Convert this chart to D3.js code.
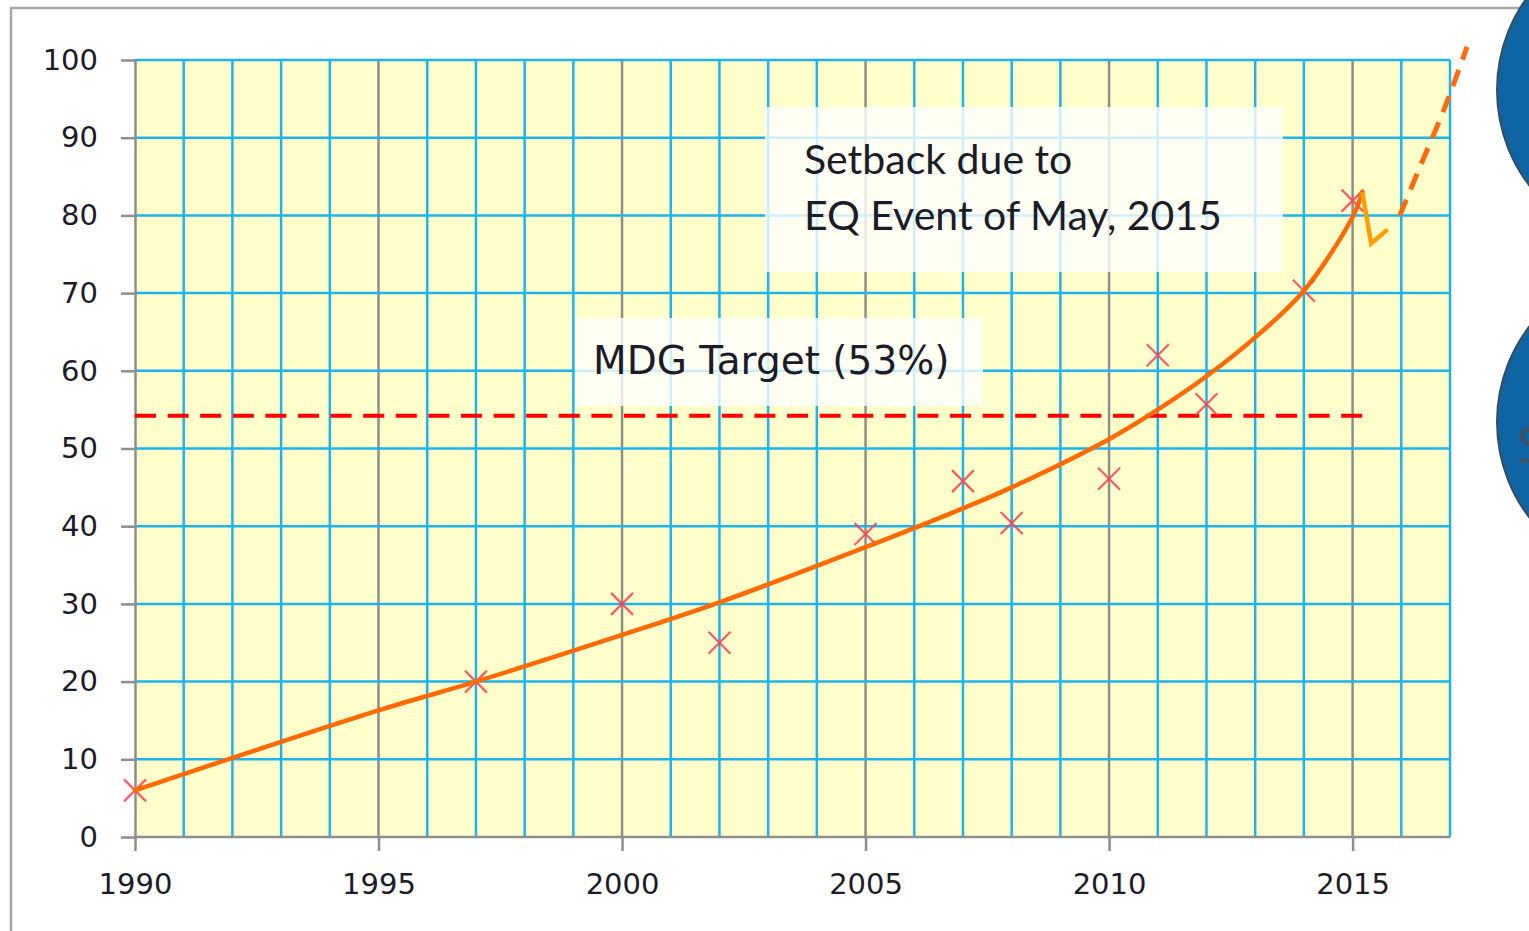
<!DOCTYPE html>
<meta charset="utf-8">
<style>
body { margin: 0; background: #fff; }
</style>
<body>
<script src="https://cdnjs.cloudflare.com/ajax/libs/d3/7.8.5/d3.min.js"></script>
<script>
// observed points (year, %)
var obsYears  = [1990, 1997, 2000, 2002, 2005, 2007, 2008, 2010, 2011, 2012, 2014, 2015];
var obsValues = [6, 20, 30, 25, 39, 45.8, 40.4, 46.1, 62, 55.7, 70.3, 81.9];

// fitted trend curve
var trendYears  = [1990, 1995, 1997, 2000, 2002, 2005, 2007, 2008, 2010, 2011, 2012, 2013, 2014, 2015, 2015.2];
var trendValues = [6, 16.3, 20, 26, 30.2, 37.3, 42.3, 45, 51.2, 55, 59.3, 64.3, 70.3, 79.8, 83];

// setback zigzag and projected recovery
var setbackYears  = [2015.2, 2015.38, 2015.72];
var setbackValues = [83, 76.4, 78.2];
var projYears  = [2015.97, 2016.4, 2016.9, 2017.35];
var projValues = [80, 86.5, 94, 101.7];

var targetValue = 54.2;
var targetEnd = 2015.2;

var yTicks = [0, 10, 20, 30, 40, 50, 60, 70, 80, 90, 100];
var xTicks = [1990, 1995, 2000, 2005, 2010, 2015];

var W = 1529, H = 931;
var pL = 135, pR = 1450, pT = 60, pB = 837;

var blue = "#1db4ec", grey = "#8e8e8e";

var svg = d3.select("body").append("svg")
    .attr("width", W)
    .attr("height", H);

var x = d3.scaleLinear().domain([1990, 2017]).range([pL, pR]);
var y = d3.scaleLinear().domain([0, 100]).range([pB, pT]);

// outer frame
svg.append("path")
    .attr("d", "M11," + H + "V8H" + W)
    .attr("fill", "none")
    .attr("stroke", "#a6a6a6")
    .attr("stroke-width", 2.5);

// right side circles
svg.append("circle").attr("cx", 1654).attr("cy", 90).attr("r", 157)
    .attr("fill", "#0f65a3").attr("stroke", "#3b4b5c").attr("stroke-width", 2);
svg.append("circle").attr("cx", 1654).attr("cy", 422).attr("r", 157)
    .attr("fill", "#0f65a3").attr("stroke", "#3b4b5c").attr("stroke-width", 2);
svg.append("text").attr("x", 1517).attr("y", 463)
    .style("font-family", "Open Sans").style("font-size", "50px")
    .attr("fill", "#3f5163").text("S");

// plot background
svg.append("rect")
    .attr("x", pL).attr("y", pT)
    .attr("width", pR - pL).attr("height", pB - pT)
    .attr("fill", "#ffffcc");

// grid
var years = d3.range(1991, 2018);
svg.append("g").selectAll("line")
    .data(years)
    .enter().append("line")
    .attr("x1", function(d) { return x(d); })
    .attr("x2", function(d) { return x(d); })
    .attr("y1", pT).attr("y2", pB)
    .attr("stroke", function(d) { return (d % 5 == 0) ? grey : blue; })
    .attr("stroke-width", 2.5);

svg.append("g").selectAll("line")
    .data(yTicks.slice(1))
    .enter().append("line")
    .attr("x1", pL).attr("x2", pR)
    .attr("y1", function(d) { return y(d); })
    .attr("y2", function(d) { return y(d); })
    .attr("stroke", blue)
    .attr("stroke-width", 2.5);

// axes
var yAxis = svg.append("g")
    .attr("transform", "translate(" + pL + ",0)")
    .call(d3.axisLeft(y).tickValues(yTicks).tickSize(14).tickPadding(23).tickSizeOuter(0));
var xAxis = svg.append("g")
    .attr("transform", "translate(0," + pB + ")")
    .call(d3.axisBottom(x).tickValues(xTicks).tickFormat(d3.format("d")).tickSize(14).tickPadding(22).tickSizeOuter(0));

[yAxis, xAxis].forEach(function(a) {
    a.select(".domain").attr("stroke", grey).attr("stroke-width", 2.5);
    a.selectAll(".tick line").attr("stroke", grey).attr("stroke-width", 2.5);
    a.selectAll(".tick text")
        .attr("fill", "#1c1c28")
        .style("font-family", "DejaVu Sans")
        .style("font-size", "29px");
});
xAxis.select(".domain").attr("d", "M" + pL + ",0H" + pR);

// MDG target
svg.append("line")
    .attr("x1", x(1990)).attr("x2", x(targetEnd))
    .attr("y1", y(targetValue)).attr("y2", y(targetValue))
    .attr("stroke", "#ff0000")
    .attr("stroke-width", 4)
    .attr("stroke-dasharray", "21,11.6");

// annotation boxes
svg.append("rect")
    .attr("x", 765).attr("y", 107).attr("width", 518).attr("height", 165)
    .attr("fill", "#fff").attr("fill-opacity", 0.78);
svg.append("text").attr("x", 804).attr("y", 174)
    .style("font-family", "Lato").style("font-size", "41px")
    .attr("fill", "#1c1c28").text("Setback due to");
svg.append("text").attr("x", 804).attr("y", 230)
    .style("font-family", "Lato").style("font-size", "41px")
    .attr("fill", "#1c1c28").text("EQ Event of May, 2015");

svg.append("rect")
    .attr("x", 575).attr("y", 318).attr("width", 408).attr("height", 88)
    .attr("fill", "#fff").attr("fill-opacity", 0.78);
svg.append("text").attr("x", 593).attr("y", 374)
    .style("font-family", "DejaVu Sans").style("font-size", "39px")
    .attr("fill", "#1c1c28").text("MDG Target (53%)");

// observed markers
var obs = obsYears.map(function(d, i) { return [d, obsValues[i]]; });
var s = 11;
svg.append("g").selectAll("path")
    .data(obs)
    .enter().append("path")
    .attr("d", function(d) {
        var cx = x(d[0]), cy = y(d[1]);
        return "M" + (cx - s) + "," + (cy - s) + "L" + (cx + s) + "," + (cy + s) +
               "M" + (cx - s) + "," + (cy + s) + "L" + (cx + s) + "," + (cy - s);
    })
    .attr("stroke", "#ff3d50")
    .attr("stroke-opacity", 0.85)
    .attr("stroke-width", 2.2)
    .attr("fill", "none");

// trend line
var line = d3.line()
    .x(function(d) { return x(d[0]); })
    .y(function(d) { return y(d[1]); });

var trend = trendYears.map(function(d, i) { return [d, trendValues[i]]; });
svg.append("path")
    .datum(trend)
    .attr("d", line.curve(d3.curveCatmullRom.alpha(0.5)))
    .attr("fill", "none")
    .attr("stroke", "#ff6a00")
    .attr("stroke-width", 4.5)
    .attr("stroke-linecap", "round");

var setback = setbackYears.map(function(d, i) { return [d, setbackValues[i]]; });
svg.append("path")
    .datum(setback)
    .attr("d", line.curve(d3.curveLinear))
    .attr("fill", "none")
    .attr("stroke", "#ffa000")
    .attr("stroke-width", 4.5)
    .attr("stroke-linejoin", "miter");

var proj = projYears.map(function(d, i) { return [d, projValues[i]]; });
svg.append("path")
    .datum(proj)
    .attr("d", line.curve(d3.curveMonotoneX))
    .attr("fill", "none")
    .attr("stroke", "#ff6a10")
    .attr("stroke-width", 5)
    .attr("stroke-dasharray", "17,11");
</script>
</body>
